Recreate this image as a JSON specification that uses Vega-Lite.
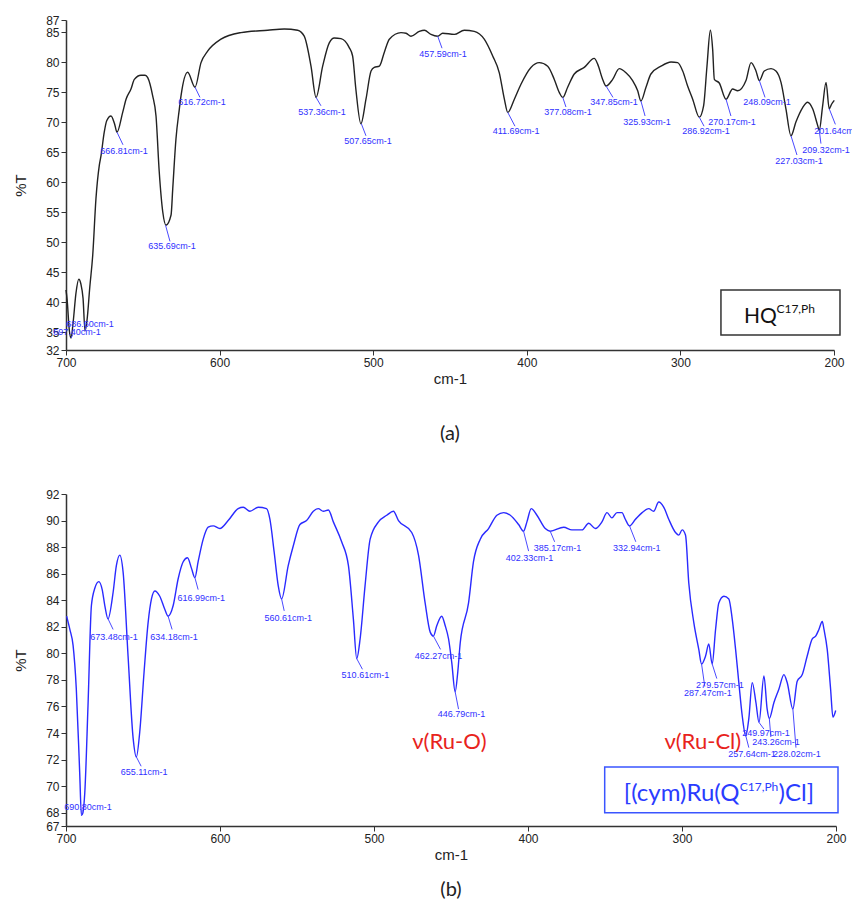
{
  "$schema": "https://vega.github.io/schema/vega-lite/v6.json",
  "background": "white",
  "padding": {"left": 13, "top": 14, "right": 0, "bottom": 0},
  "datasets": {
    "topSpec": [
      {"x":700,"y":42.0},{"x":699.3,"y":40.5},{"x":697.8,"y":35.2},{"x":696.7,"y":34.0},{"x":695.4,"y":36.5},{"x":693.5,"y":41.5},{"x":691.7,"y":43.8},{"x":690.3,"y":43.0},{"x":688.9,"y":40.6},{"x":687.6,"y":35.2},{"x":686.3,"y":37.0},{"x":684.5,"y":42.5},{"x":682.6,"y":47.8},{"x":680.5,"y":57.2},{"x":678.3,"y":62.8},{"x":677.2,"y":64.4},{"x":675.1,"y":68.3},{"x":673.5,"y":70.2},{"x":670.7,"y":71.0},{"x":668.5,"y":69.8},{"x":666.8,"y":68.3},{"x":663.1,"y":71.6},{"x":660.9,"y":73.8},{"x":657.7,"y":75.5},{"x":655.5,"y":77.1},{"x":651.2,"y":77.8},{"x":648.5,"y":77.8},{"x":646.8,"y":77.4},{"x":643.6,"y":74.4},{"x":641.4,"y":71.0},{"x":639.3,"y":61.7},{"x":637.0,"y":55.0},{"x":634.9,"y":52.8},{"x":631.6,"y":54.5},{"x":630.5,"y":58.9},{"x":628.4,"y":67.2},{"x":626.2,"y":72.2},{"x":625.1,"y":74.4},{"x":620.8,"y":78.3},{"x":616.0,"y":75.8},{"x":612.1,"y":79.9},{"x":607.8,"y":81.8},{"x":599.1,"y":83.8},{"x":586.1,"y":84.9},{"x":568.7,"y":85.3},{"x":557.9,"y":85.5},{"x":549.2,"y":85.3},{"x":544.9,"y":84.3},{"x":540.5,"y":79.3},{"x":537.2,"y":74.1},{"x":532.9,"y":79.3},{"x":528.6,"y":83.2},{"x":525.3,"y":84.0},{"x":521.0,"y":83.9},{"x":515.6,"y":82.4},{"x":513.4,"y":81.0},{"x":511.3,"y":75.5},{"x":508.0,"y":69.7},{"x":504.7,"y":73.8},{"x":501.4,"y":78.5},{"x":499.3,"y":79.1},{"x":496.0,"y":79.3},{"x":492.8,"y":81.6},{"x":489.5,"y":83.8},{"x":481.9,"y":84.9},{"x":478.6,"y":84.8},{"x":475.4,"y":84.3},{"x":470.0,"y":85.1},{"x":466.7,"y":85.3},{"x":462.4,"y":84.6},{"x":458.0,"y":84.3},{"x":454.8,"y":84.8},{"x":447.2,"y":84.6},{"x":440.7,"y":85.3},{"x":434.2,"y":85.1},{"x":427.7,"y":83.8},{"x":422.2,"y":81.0},{"x":417.9,"y":78.2},{"x":414.6,"y":73.8},{"x":412.4,"y":71.6},{"x":408.1,"y":73.8},{"x":403.8,"y":76.3},{"x":397.3,"y":79.1},{"x":391.9,"y":79.9},{"x":386.4,"y":79.3},{"x":382.1,"y":77.1},{"x":378.8,"y":74.9},{"x":376.6,"y":74.1},{"x":373.4,"y":75.8},{"x":369.1,"y":78.0},{"x":362.6,"y":79.1},{"x":356.1,"y":80.6},{"x":353.8,"y":79.6},{"x":350.6,"y":77.1},{"x":348.4,"y":76.0},{"x":344.1,"y":77.1},{"x":339.8,"y":78.9},{"x":335.4,"y":78.2},{"x":331.1,"y":76.9},{"x":327.8,"y":75.2},{"x":325.7,"y":73.5},{"x":322.4,"y":75.8},{"x":319.2,"y":78.0},{"x":312.6,"y":79.3},{"x":306.1,"y":80.0},{"x":301.8,"y":79.9},{"x":298.5,"y":78.5},{"x":295.3,"y":76.0},{"x":292.0,"y":73.8},{"x":287.7,"y":70.8},{"x":284.9,"y":72.7},{"x":282.7,"y":79.3},{"x":280.5,"y":85.3},{"x":279.0,"y":82.1},{"x":277.9,"y":77.1},{"x":274.7,"y":76.5},{"x":270.3,"y":73.8},{"x":266.0,"y":75.5},{"x":262.7,"y":75.2},{"x":257.3,"y":76.9},{"x":254.0,"y":79.9},{"x":250.8,"y":78.5},{"x":248.6,"y":76.9},{"x":245.4,"y":78.5},{"x":241.0,"y":78.9},{"x":237.8,"y":78.5},{"x":234.5,"y":76.6},{"x":231.3,"y":72.2},{"x":228.0,"y":67.7},{"x":224.8,"y":70.0},{"x":220.4,"y":72.4},{"x":217.2,"y":73.3},{"x":213.9,"y":72.2},{"x":210.6,"y":69.4},{"x":209.6,"y":68.6},{"x":207.4,"y":72.7},{"x":205.2,"y":76.6},{"x":203.1,"y":72.2},{"x":201.5,"y":73.0},{"x":199.8,"y":73.6}
    ],
    "topPeaks": [
      {"lab":"697.40cm-1","px":696.7,"py":34.0,"lx":695.5,"ly":34.6,"tx":692.8,"ty":35.0},
      {"lab":"686.60cm-1","px":687.6,"py":35.2,"lx":687.0,"ly":35.8,"tx":684.4,"ty":36.4},
      {"lab":"666.81cm-1","px":666.8,"py":68.3,"lx":662.9,"ly":66.2,"tx":662.2,"ty":65.2},
      {"lab":"635.69cm-1","px":635.2,"py":52.8,"lx":632.3,"ly":50.1,"tx":631.0,"ty":49.3},
      {"lab":"616.72cm-1","px":616.0,"py":75.8,"lx":612.8,"ly":74.1,"tx":611.5,"ty":73.3},
      {"lab":"537.36cm-1","px":537.2,"py":74.1,"lx":534.0,"ly":72.7,"tx":533.3,"ty":71.7},
      {"lab":"507.65cm-1","px":507.7,"py":69.7,"lx":504.7,"ly":67.7,"tx":503.4,"ty":66.9},
      {"lab":"457.59cm-1","px":458.0,"py":84.3,"lx":455.2,"ly":82.3,"tx":454.6,"ty":81.4},
      {"lab":"411.69cm-1","px":412.4,"py":71.6,"lx":407.7,"ly":69.3,"tx":407.0,"ty":68.5},
      {"lab":"377.08cm-1","px":376.6,"py":74.1,"lx":374.5,"ly":72.5,"tx":373.2,"ty":71.7},
      {"lab":"347.85cm-1","px":348.4,"py":76.0,"lx":343.9,"ly":74.1,"tx":343.2,"ty":73.3},
      {"lab":"325.93cm-1","px":325.7,"py":73.5,"lx":323.0,"ly":71.0,"tx":321.8,"ty":70.0},
      {"lab":"286.92cm-1","px":287.7,"py":70.8,"lx":284.6,"ly":69.3,"tx":283.3,"ty":68.5},
      {"lab":"270.17cm-1","px":270.3,"py":73.8,"lx":267.1,"ly":71.0,"tx":266.4,"ty":70.0},
      {"lab":"248.09cm-1","px":248.6,"py":76.9,"lx":244.9,"ly":74.1,"tx":243.6,"ty":73.3},
      {"lab":"227.03cm-1","px":228.0,"py":67.7,"lx":224.1,"ly":64.5,"tx":222.8,"ty":63.5},
      {"lab":"209.32cm-1","px":209.6,"py":68.6,"lx":208.5,"ly":66.4,"tx":205.2,"ty":65.4},
      {"lab":"201.64cm-1","px":203.1,"py":72.2,"lx":199.1,"ly":69.6,"tx":197.4,"ty":68.5}
    ],
    "topBox": [{"x1":273.6,"x2":196.1,"y1":42.0,"y2":34.5}],
    "topMain": [{"t":"HQ","x":258.6,"y":36.5}],
    "topSup": [{"t":"C17,Ph","x":237.5,"y":38.2}],
    "botSpec": [
      {"x":699.6,"y":82.8},{"x":697.5,"y":81.8},{"x":695.4,"y":80.6},{"x":693.3,"y":77.3},{"x":691.1,"y":71.0},{"x":690.0,"y":67.8},{"x":689.0,"y":68.0},{"x":687.8,"y":69.5},{"x":685.7,"y":76.1},{"x":683.5,"y":83.6},{"x":681.3,"y":84.9},{"x":678.7,"y":85.4},{"x":676.5,"y":84.8},{"x":674.8,"y":83.6},{"x":672.7,"y":82.6},{"x":669.4,"y":84.6},{"x":667.3,"y":86.6},{"x":665.1,"y":87.4},{"x":662.9,"y":86.1},{"x":659.7,"y":79.8},{"x":656.4,"y":73.6},{"x":654.3,"y":72.2},{"x":652.1,"y":74.1},{"x":649.3,"y":78.6},{"x":646.7,"y":82.3},{"x":644.5,"y":84.1},{"x":642.3,"y":84.7},{"x":639.1,"y":84.3},{"x":635.8,"y":83.3},{"x":633.7,"y":82.8},{"x":630.4,"y":83.6},{"x":627.2,"y":85.6},{"x":623.9,"y":86.9},{"x":621.1,"y":87.2},{"x":618.5,"y":86.4},{"x":616.3,"y":85.7},{"x":614.2,"y":86.9},{"x":610.9,"y":88.6},{"x":607.7,"y":89.5},{"x":604.4,"y":89.6},{"x":600.1,"y":89.4},{"x":594.7,"y":90.0},{"x":588.2,"y":90.9},{"x":584.9,"y":91.0},{"x":580.6,"y":90.7},{"x":575.2,"y":91.0},{"x":569.8,"y":90.9},{"x":567.6,"y":90.1},{"x":564.8,"y":87.6},{"x":562.2,"y":85.1},{"x":560.0,"y":84.1},{"x":555.7,"y":86.6},{"x":552.4,"y":88.1},{"x":548.1,"y":89.7},{"x":543.8,"y":90.0},{"x":539.4,"y":90.7},{"x":536.2,"y":90.9},{"x":532.9,"y":90.7},{"x":529.6,"y":90.8},{"x":526.4,"y":89.9},{"x":521.0,"y":88.4},{"x":516.6,"y":86.6},{"x":513.4,"y":82.6},{"x":511.2,"y":79.6},{"x":509.0,"y":81.1},{"x":505.8,"y":85.1},{"x":502.5,"y":88.6},{"x":497.1,"y":89.9},{"x":491.7,"y":90.4},{"x":487.4,"y":90.7},{"x":484.1,"y":90.0},{"x":475.5,"y":89.1},{"x":471.1,"y":87.4},{"x":466.8,"y":83.8},{"x":463.5,"y":81.6},{"x":461.4,"y":81.3},{"x":459.2,"y":82.1},{"x":456.0,"y":82.8},{"x":453.8,"y":82.1},{"x":451.6,"y":81.1},{"x":449.5,"y":79.3},{"x":447.3,"y":77.1},{"x":445.6,"y":78.6},{"x":444.0,"y":80.8},{"x":438.6,"y":83.8},{"x":435.4,"y":86.9},{"x":431.0,"y":88.6},{"x":425.6,"y":89.4},{"x":420.2,"y":90.4},{"x":415.8,"y":90.6},{"x":411.5,"y":90.4},{"x":406.1,"y":89.7},{"x":402.9,"y":89.2},{"x":400.7,"y":89.9},{"x":397.9,"y":90.9},{"x":394.2,"y":90.4},{"x":388.8,"y":89.4},{"x":385.6,"y":89.2},{"x":376.8,"y":89.5},{"x":371.5,"y":89.3},{"x":364.9,"y":89.3},{"x":360.6,"y":89.8},{"x":356.3,"y":89.4},{"x":352.0,"y":89.9},{"x":348.7,"y":90.6},{"x":345.5,"y":90.2},{"x":342.2,"y":90.6},{"x":339.0,"y":90.6},{"x":336.8,"y":90.1},{"x":334.1,"y":89.6},{"x":330.2,"y":90.1},{"x":325.9,"y":90.6},{"x":321.6,"y":90.9},{"x":318.4,"y":90.7},{"x":315.1,"y":91.4},{"x":311.8,"y":91.0},{"x":308.6,"y":90.1},{"x":304.2,"y":89.1},{"x":302.1,"y":88.9},{"x":299.9,"y":89.3},{"x":297.7,"y":88.9},{"x":295.6,"y":85.3},{"x":292.3,"y":82.3},{"x":289.1,"y":80.3},{"x":287.3,"y":79.2},{"x":284.7,"y":79.8},{"x":282.6,"y":80.7},{"x":280.4,"y":79.2},{"x":278.2,"y":81.8},{"x":276.1,"y":83.8},{"x":272.8,"y":84.3},{"x":269.6,"y":84.1},{"x":267.4,"y":82.6},{"x":265.2,"y":80.3},{"x":263.1,"y":77.8},{"x":260.9,"y":75.3},{"x":258.6,"y":73.8},{"x":256.6,"y":75.1},{"x":254.4,"y":77.8},{"x":252.0,"y":76.3},{"x":250.0,"y":74.8},{"x":246.8,"y":78.3},{"x":244.7,"y":75.8},{"x":243.3,"y":75.1},{"x":240.3,"y":76.3},{"x":237.1,"y":77.3},{"x":233.8,"y":78.4},{"x":231.7,"y":77.8},{"x":228.0,"y":75.8},{"x":225.2,"y":77.9},{"x":221.9,"y":78.4},{"x":218.7,"y":79.8},{"x":215.4,"y":81.1},{"x":213.2,"y":81.3},{"x":211.1,"y":81.8},{"x":208.9,"y":82.4},{"x":207.8,"y":81.8},{"x":205.7,"y":80.3},{"x":203.5,"y":77.3},{"x":202.0,"y":75.2},{"x":200.2,"y":75.7}
    ],
    "botPeaks": [
      {"lab":"690.80cm-1","px":690.0,"py":67.8,"lx":689.5,"ly":68.2,"tx":685.7,"ty":68.4},
      {"lab":"673.48cm-1","px":672.7,"py":82.6,"lx":669.4,"ly":81.8,"tx":668.8,"ty":81.2},
      {"lab":"655.11cm-1","px":654.3,"py":72.2,"lx":651.2,"ly":71.5,"tx":649.3,"ty":71.1},
      {"lab":"634.18cm-1","px":633.7,"py":82.8,"lx":631.1,"ly":81.8,"tx":629.8,"ty":81.2},
      {"lab":"616.99cm-1","px":616.3,"py":85.7,"lx":614.2,"ly":84.8,"tx":612.2,"ty":84.2},
      {"lab":"560.61cm-1","px":560.0,"py":84.1,"lx":558.3,"ly":83.2,"tx":555.7,"ty":82.7},
      {"lab":"510.61cm-1","px":511.2,"py":79.6,"lx":507.5,"ly":78.8,"tx":505.6,"ty":78.4},
      {"lab":"462.27cm-1","px":461.4,"py":81.3,"lx":456.8,"ly":80.3,"tx":458.1,"ty":79.8},
      {"lab":"446.79cm-1","px":447.3,"py":77.1,"lx":445.1,"ly":75.8,"tx":443.2,"ty":75.4},
      {"lab":"402.33cm-1","px":402.9,"py":89.2,"lx":399.6,"ly":87.7,"tx":399.0,"ty":87.2},
      {"lab":"385.17cm-1","px":385.6,"py":89.2,"lx":382.7,"ly":88.4,"tx":380.8,"ty":87.9},
      {"lab":"332.94cm-1","px":334.1,"py":89.6,"lx":330.0,"ly":88.4,"tx":329.4,"ty":87.9},
      {"lab":"287.47cm-1","px":287.3,"py":79.2,"lx":285.2,"ly":77.5,"tx":283.2,"ty":77.0},
      {"lab":"279.57cm-1","px":280.4,"py":79.2,"lx":277.4,"ly":78.1,"tx":275.4,"ty":77.6},
      {"lab":"257.64cm-1","px":258.6,"py":73.8,"lx":256.6,"ly":72.9,"tx":254.6,"ty":72.4},
      {"lab":"249.97cm-1","px":250.0,"py":74.8,"lx":246.8,"ly":74.3,"tx":245.5,"ty":74.0},
      {"lab":"243.26cm-1","px":243.3,"py":75.1,"lx":242.3,"ly":73.7,"tx":239.0,"ty":73.3},
      {"lab":"228.02cm-1","px":228.0,"py":75.8,"lx":226.0,"ly":72.9,"tx":225.4,"ty":72.4}
    ],
    "botBox": [{"x1":350.2,"x2":198.7,"y1":71.44,"y2":68.0}],
    "botMain": [{"t":"[(cym)Ru(Q","x":337.8,"y":68.9},{"t":")Cl]","x":237.3,"y":68.9}],
    "botSup": [{"t":"C17,Ph","x":262.5,"y":69.6}],
    "botRed": [{"t":"ν(Ru-O)","x":451.0,"y":73.3},{"t":"ν(Ru-Cl)","x":286.5,"y":73.3}]
  },
  "vconcat": [
    {
      "width": 768,
      "height": 330,
      "title": {"text": "(a)", "orient": "bottom", "font": "Lato", "fontSize": 20, "fontWeight": "normal", "color": "#222", "offset": 38},
      "layer": [
        {
          "data": {"name": "topSpec"},
          "mark": {"type": "line", "color": "#222", "strokeWidth": 1.4, "interpolate": "monotone"},
          "encoding": {
            "x": {"field": "x", "type": "quantitative", "scale": {"domain": [200, 700], "reverse": true, "nice": false, "zero": false}, "axis": {"title": "cm-1", "values": [700, 600, 500, 400, 300, 200]}},
            "y": {"field": "y", "type": "quantitative", "scale": {"domain": [32, 87], "nice": false, "zero": false}, "axis": {"title": "%T", "values": [32, 35, 40, 45, 50, 55, 60, 65, 70, 75, 80, 85, 87]}}
          }
        },
        {
          "data": {"name": "topPeaks"},
          "mark": {"type": "rule", "color": "#4a4aff", "strokeWidth": 1},
          "encoding": {
            "x": {"field": "px", "type": "quantitative", "scale": {"domain": [200, 700], "reverse": true, "nice": false, "zero": false}, "axis": {"title": "cm-1", "values": [700, 600, 500, 400, 300, 200]}},
            "y": {"field": "py", "type": "quantitative", "scale": {"domain": [32, 87], "nice": false, "zero": false}, "axis": {"title": "%T", "values": [32, 35, 40, 45, 50, 55, 60, 65, 70, 75, 80, 85, 87]}},
            "x2": {"field": "lx"},
            "y2": {"field": "ly"}
          }
        },
        {
          "data": {"name": "topPeaks"},
          "mark": {"type": "text", "color": "#2f2fff", "font": "Liberation Sans", "fontSize": 9, "align": "center", "baseline": "middle"},
          "encoding": {
            "x": {"field": "tx", "type": "quantitative", "scale": {"domain": [200, 700], "reverse": true, "nice": false, "zero": false}, "axis": {"title": "cm-1", "values": [700, 600, 500, 400, 300, 200]}},
            "y": {"field": "ty", "type": "quantitative", "scale": {"domain": [32, 87], "nice": false, "zero": false}, "axis": {"title": "%T", "values": [32, 35, 40, 45, 50, 55, 60, 65, 70, 75, 80, 85, 87]}},
            "text": {"field": "lab"}
          }
        },
        {
          "data": {"name": "topBox"},
          "mark": {"type": "rect", "fill": "white", "stroke": "#333", "strokeWidth": 1.5},
          "encoding": {
            "x": {"field": "x1", "type": "quantitative", "scale": {"domain": [200, 700], "reverse": true, "nice": false, "zero": false}, "axis": {"title": "cm-1", "values": [700, 600, 500, 400, 300, 200]}},
            "x2": {"field": "x2"},
            "y": {"field": "y1", "type": "quantitative", "scale": {"domain": [32, 87], "nice": false, "zero": false}, "axis": {"title": "%T", "values": [32, 35, 40, 45, 50, 55, 60, 65, 70, 75, 80, 85, 87]}},
            "y2": {"field": "y2"}
          }
        },
        {
          "data": {"name": "topMain"},
          "mark": {"type": "text", "color": "#111", "font": "Lato", "fontSize": 21, "align": "left", "baseline": "alphabetic"},
          "encoding": {
            "x": {"field": "x", "type": "quantitative", "scale": {"domain": [200, 700], "reverse": true, "nice": false, "zero": false}, "axis": {"title": "cm-1", "values": [700, 600, 500, 400, 300, 200]}},
            "y": {"field": "y", "type": "quantitative", "scale": {"domain": [32, 87], "nice": false, "zero": false}, "axis": {"title": "%T", "values": [32, 35, 40, 45, 50, 55, 60, 65, 70, 75, 80, 85, 87]}},
            "text": {"field": "t"}
          }
        },
        {
          "data": {"name": "topSup"},
          "mark": {"type": "text", "color": "#111", "font": "Lato", "fontSize": 12, "align": "left", "baseline": "alphabetic"},
          "encoding": {
            "x": {"field": "x", "type": "quantitative", "scale": {"domain": [200, 700], "reverse": true, "nice": false, "zero": false}, "axis": {"title": "cm-1", "values": [700, 600, 500, 400, 300, 200]}},
            "y": {"field": "y", "type": "quantitative", "scale": {"domain": [32, 87], "nice": false, "zero": false}, "axis": {"title": "%T", "values": [32, 35, 40, 45, 50, 55, 60, 65, 70, 75, 80, 85, 87]}},
            "text": {"field": "t"}
          }
        }
      ]
    },
    {
      "width": 770,
      "height": 332,
      "title": {"text": "(b)", "orient": "bottom", "font": "Lato", "fontSize": 20, "fontWeight": "normal", "color": "#222", "offset": 18},
      "layer": [
        {
          "data": {"name": "botSpec"},
          "mark": {"type": "line", "color": "#2a2aff", "strokeWidth": 1.4, "interpolate": "monotone"},
          "encoding": {
            "x": {"field": "x", "type": "quantitative", "scale": {"domain": [200, 700], "reverse": true, "nice": false, "zero": false}, "axis": {"title": "cm-1", "values": [700, 600, 500, 400, 300, 200]}},
            "y": {"field": "y", "type": "quantitative", "scale": {"domain": [67, 92], "nice": false, "zero": false}, "axis": {"title": "%T", "values": [67, 68, 70, 72, 74, 76, 78, 80, 82, 84, 86, 88, 90, 92]}}
          }
        },
        {
          "data": {"name": "botPeaks"},
          "mark": {"type": "rule", "color": "#4a4aff", "strokeWidth": 1},
          "encoding": {
            "x": {"field": "px", "type": "quantitative", "scale": {"domain": [200, 700], "reverse": true, "nice": false, "zero": false}, "axis": {"title": "cm-1", "values": [700, 600, 500, 400, 300, 200]}},
            "y": {"field": "py", "type": "quantitative", "scale": {"domain": [67, 92], "nice": false, "zero": false}, "axis": {"title": "%T", "values": [67, 68, 70, 72, 74, 76, 78, 80, 82, 84, 86, 88, 90, 92]}},
            "x2": {"field": "lx"},
            "y2": {"field": "ly"}
          }
        },
        {
          "data": {"name": "botPeaks"},
          "mark": {"type": "text", "color": "#2f2fff", "font": "Liberation Sans", "fontSize": 9, "align": "center", "baseline": "middle"},
          "encoding": {
            "x": {"field": "tx", "type": "quantitative", "scale": {"domain": [200, 700], "reverse": true, "nice": false, "zero": false}, "axis": {"title": "cm-1", "values": [700, 600, 500, 400, 300, 200]}},
            "y": {"field": "ty", "type": "quantitative", "scale": {"domain": [67, 92], "nice": false, "zero": false}, "axis": {"title": "%T", "values": [67, 68, 70, 72, 74, 76, 78, 80, 82, 84, 86, 88, 90, 92]}},
            "text": {"field": "lab"}
          }
        },
        {
          "data": {"name": "botBox"},
          "mark": {"type": "rect", "fill": "white", "stroke": "#3a55ff", "strokeWidth": 1.5},
          "encoding": {
            "x": {"field": "x1", "type": "quantitative", "scale": {"domain": [200, 700], "reverse": true, "nice": false, "zero": false}, "axis": {"title": "cm-1", "values": [700, 600, 500, 400, 300, 200]}},
            "x2": {"field": "x2"},
            "y": {"field": "y1", "type": "quantitative", "scale": {"domain": [67, 92], "nice": false, "zero": false}, "axis": {"title": "%T", "values": [67, 68, 70, 72, 74, 76, 78, 80, 82, 84, 86, 88, 90, 92]}},
            "y2": {"field": "y2"}
          }
        },
        {
          "data": {"name": "botMain"},
          "mark": {"type": "text", "color": "#2a3cff", "font": "Lato", "fontSize": 24, "align": "left", "baseline": "alphabetic"},
          "encoding": {
            "x": {"field": "x", "type": "quantitative", "scale": {"domain": [200, 700], "reverse": true, "nice": false, "zero": false}, "axis": {"title": "cm-1", "values": [700, 600, 500, 400, 300, 200]}},
            "y": {"field": "y", "type": "quantitative", "scale": {"domain": [67, 92], "nice": false, "zero": false}, "axis": {"title": "%T", "values": [67, 68, 70, 72, 74, 76, 78, 80, 82, 84, 86, 88, 90, 92]}},
            "text": {"field": "t"}
          }
        },
        {
          "data": {"name": "botSup"},
          "mark": {"type": "text", "color": "#2a3cff", "font": "Lato", "fontSize": 12, "align": "left", "baseline": "alphabetic"},
          "encoding": {
            "x": {"field": "x", "type": "quantitative", "scale": {"domain": [200, 700], "reverse": true, "nice": false, "zero": false}, "axis": {"title": "cm-1", "values": [700, 600, 500, 400, 300, 200]}},
            "y": {"field": "y", "type": "quantitative", "scale": {"domain": [67, 92], "nice": false, "zero": false}, "axis": {"title": "%T", "values": [67, 68, 70, 72, 74, 76, 78, 80, 82, 84, 86, 88, 90, 92]}},
            "text": {"field": "t"}
          }
        },
        {
          "data": {"name": "botRed"},
          "mark": {"type": "text", "color": "#e8231c", "font": "Lato", "fontSize": 22, "align": "center", "baseline": "middle"},
          "encoding": {
            "x": {"field": "x", "type": "quantitative", "scale": {"domain": [200, 700], "reverse": true, "nice": false, "zero": false}, "axis": {"title": "cm-1", "values": [700, 600, 500, 400, 300, 200]}},
            "y": {"field": "y", "type": "quantitative", "scale": {"domain": [67, 92], "nice": false, "zero": false}, "axis": {"title": "%T", "values": [67, 68, 70, 72, 74, 76, 78, 80, 82, 84, 86, 88, 90, 92]}},
            "text": {"field": "t"}
          }
        }
      ]
    }
  ],
  "config": {
    "view": {"stroke": null},
    "concat": {"spacing": 44},
    "axis": {
      "grid": false,
      "domainColor": "#333",
      "domainWidth": 1.5,
      "tickColor": "#333",
      "tickSize": 5,
      "labelColor": "#222",
      "labelFont": "Liberation Sans",
      "labelFontSize": 12,
      "labelPadding": 2,
      "labelFlush": false,
      "labelOverlap": false,
      "titleFont": "Liberation Sans",
      "titleFontSize": 15,
      "titleFontWeight": "normal",
      "titleColor": "#222"
    },
    "axisX": {"titlePadding": 3},
    "axisY": {"titlePadding": 17}
  }
}
